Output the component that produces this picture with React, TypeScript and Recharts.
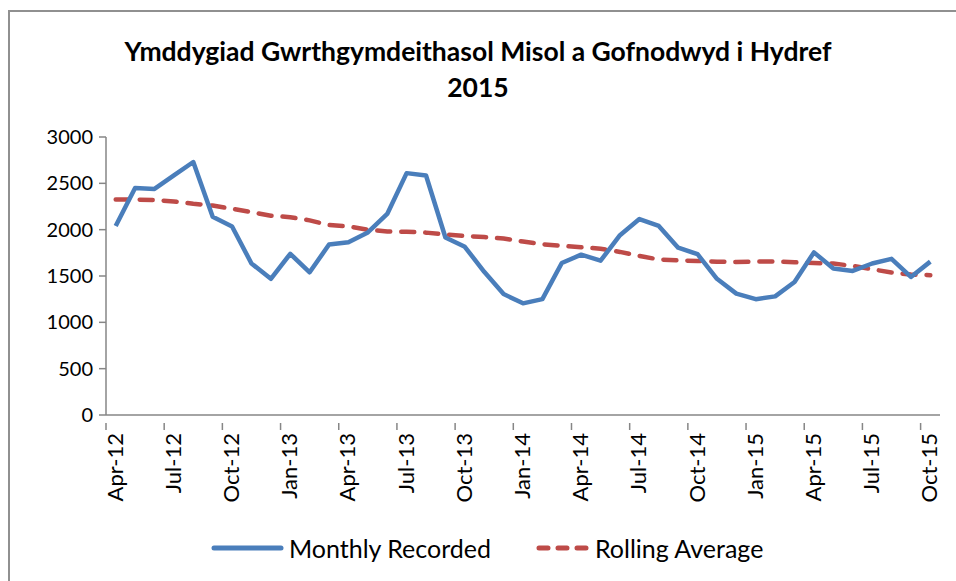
import React from 'react';
import { LineChart, Line, XAxis, YAxis } from 'recharts';

const months = [
  'Apr-12','May-12','Jun-12','Jul-12','Aug-12','Sep-12','Oct-12','Nov-12','Dec-12',
  'Jan-13','Feb-13','Mar-13','Apr-13','May-13','Jun-13','Jul-13','Aug-13','Sep-13','Oct-13','Nov-13','Dec-13',
  'Jan-14','Feb-14','Mar-14','Apr-14','May-14','Jun-14','Jul-14','Aug-14','Sep-14','Oct-14','Nov-14','Dec-14',
  'Jan-15','Feb-15','Mar-15','Apr-15','May-15','Jun-15','Jul-15','Aug-15','Sep-15','Oct-15',
];

const monthlyRecorded = [
  2040, 2450, 2440, 2585, 2730, 2140, 2035, 1635, 1470, 1740, 1540, 1840, 1865, 1970, 2170,
  2610, 2585, 1915, 1815, 1545, 1305, 1205, 1250, 1640, 1730, 1665, 1940, 2115, 2040, 1805,
  1735, 1470, 1310, 1250, 1280, 1435, 1755, 1580, 1555, 1635, 1685, 1490, 1655,
];

const rollingAverage = [
  2325, 2325, 2320, 2305, 2280, 2260, 2225, 2190, 2150, 2135, 2100, 2050, 2035, 2000, 1980,
  1978, 1968, 1947, 1932, 1920, 1904, 1872, 1843, 1825, 1810, 1795, 1760, 1717, 1678, 1668,
  1663, 1655, 1652, 1656, 1656, 1648, 1641, 1634, 1609, 1573, 1538, 1516, 1509,
];

const yTicks = [0, 500, 1000, 1500, 2000, 2500, 3000];

const data = months.map((m, i) => ({
  month: m,
  monthly: monthlyRecorded[i],
  rolling: rollingAverage[i],
}));

const W = 956;
const H = 581;
const PLOT_LEFT = 106;
const PLOT_RIGHT = 940;
const STEP = (PLOT_RIGHT - PLOT_LEFT) / months.length;
const FONT = "Lato, 'Liberation Sans', sans-serif";
const BLUE = '#4A7EBB';
const RED = '#BE4B48';
const AXIS = '#868686';

const XTick = (props: any) => {
  const { x, y, payload } = props;
  return (
    <g>
      <line x1={x - STEP / 2} x2={x - STEP / 2} y1={y} y2={y + 7} stroke={AXIS} strokeWidth={1.5} />
      <text
        x={0}
        y={0}
        transform={`translate(${x + 7},${y + 10}) rotate(-90)`}
        textAnchor="end"
        fontSize={22}
        fontFamily={FONT}
        fill="#000"
      >
        {payload.value}
      </text>
    </g>
  );
};

export default function App() {
  return (
    <div style={{ position: 'absolute', left: 0, top: 0, width: W, height: H, overflow: 'hidden', background: '#fff' }}>
      <div
        style={{
          position: 'absolute',
          left: 8,
          top: 10,
          width: 1000,
          height: 1000,
          border: '2px solid #909090',
        }}
      />
      <div
        style={{
          position: 'absolute',
          left: 0,
          top: 33,
          width: 956,
          textAlign: 'center',
          fontFamily: FONT,
          fontWeight: 700,
          fontSize: 26.5,
          lineHeight: '36px',
          color: '#000',
        }}
      >
        <div>Ymddygiad Gwrthgymdeithasol Misol a Gofnodwyd i Hydref</div>
        <div>2015</div>
      </div>
      <div style={{ position: 'absolute', left: 0, top: 0 }}>
        <LineChart
          width={W}
          height={H}
          data={data}
          margin={{ top: 137, right: W - PLOT_RIGHT, bottom: 76, left: 0 }}
        >
          <XAxis
            dataKey="month"
            interval={2}
            padding={{ left: STEP / 2, right: STEP / 2 }}
            tickLine={false}
            axisLine={{ stroke: AXIS, strokeWidth: 1.5 }}
            tick={<XTick />}
            height={90}
          />
          <YAxis
            width={PLOT_LEFT}
            domain={[0, 3000]}
            ticks={yTicks}
            interval={0}
            axisLine={{ stroke: AXIS, strokeWidth: 1.5 }}
            tickLine={{ stroke: AXIS, strokeWidth: 1.5 }}
            tickSize={7}
            tickMargin={6}
            tick={{ fontSize: 20, fontFamily: FONT, fill: '#000' }}
          />
          <Line
            type="linear"
            dataKey="rolling"
            stroke={RED}
            strokeWidth={4.5}
            strokeDasharray="13 11"
            strokeLinecap="round"
            dot={false}
            isAnimationActive={false}
          />
          <Line
            type="linear"
            dataKey="monthly"
            stroke={BLUE}
            strokeWidth={4.5}
            strokeLinejoin="round"
            dot={false}
            isAnimationActive={false}
          />
        </LineChart>
      </div>
      <svg style={{ position: 'absolute', left: 0, top: 0 }} width={W} height={H}>
        <line x1={214} x2={281} y1={548} y2={548} stroke={BLUE} strokeWidth={5} strokeLinecap="round" />
        <line x1={539} x2={586} y1={548} y2={548} stroke={RED} strokeWidth={5} strokeLinecap="round" strokeDasharray="9 10" />
      </svg>
      <div style={{ position: 'absolute', left: 289, top: 533, fontFamily: FONT, fontSize: 25, lineHeight: '30px', color: '#000' }}>
        Monthly Recorded
      </div>
      <div style={{ position: 'absolute', left: 595, top: 533, fontFamily: FONT, fontSize: 25, lineHeight: '30px', color: '#000' }}>
        Rolling Average
      </div>
    </div>
  );
}
